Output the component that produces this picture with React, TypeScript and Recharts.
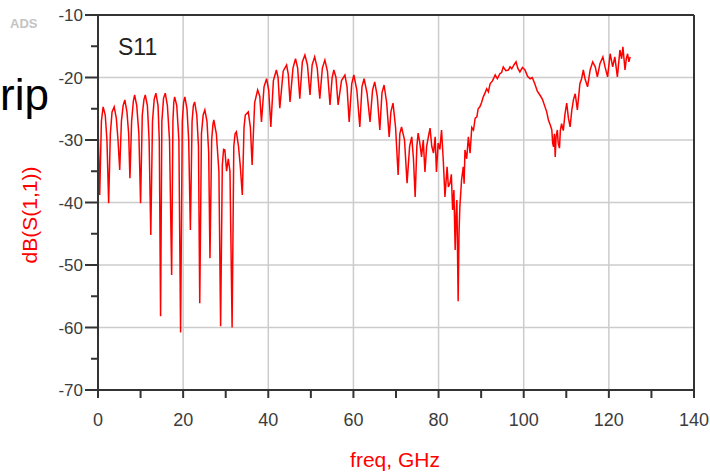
import { LineChart, Line, XAxis, YAxis, CartesianGrid, ReferenceLine } from 'recharts';

// S11 sweep as [freq GHz, dB] pairs, split by band
const lowBand = [
  [0.1, -30], [0.4, -38.8], [0.8, -27], [1.2, -24.7], [1.7, -26], [2.1, -30], [2.5, -40.1], [2.9, -29],
  [3.3, -25.5], [3.8, -24.7], [4.3, -26.5], [4.7, -30], [5.1, -34.8], [5.5, -27], [5.9, -24.5], [6.3, -23.6],
  [6.8, -25.5], [7.2, -29], [7.5, -36.1], [7.9, -27], [8.3, -23.8], [8.6, -22.8], [9.1, -24.5], [9.6, -29],
  [10.0, -40.1], [10.4, -26], [10.8, -23.5], [11.1, -22.8], [11.6, -24.5], [12.0, -30], [12.4, -45.2], [12.8, -27],
  [13.2, -23.5], [13.6, -22.5], [14.1, -24.5], [14.4, -30], [14.7, -58.2], [15.0, -27], [15.4, -23.3], [15.8, -22.5],
  [16.3, -24.5], [16.8, -30], [17.3, -51.6], [17.6, -27], [17.8, -24], [18.0, -23.1], [18.5, -24.5], [19.0, -30],
  [19.4, -60.8], [19.8, -27], [20.1, -24], [20.4, -23.1], [20.9, -25], [21.3, -30], [21.7, -44.4], [22.1, -27],
  [22.4, -24.5], [22.7, -23.9], [23.2, -26], [23.6, -31], [23.9, -56.1], [24.3, -29], [24.7, -26], [25.1, -25.2],
  [25.6, -27], [26.0, -32], [26.3, -48.9], [26.7, -30], [27.0, -27.5], [27.2, -26.8], [27.8, -29], [28.4, -35],
  [28.8, -59.8], [29.2, -34], [29.5, -31.5], [29.8, -31.6], [30.2, -35], [30.6, -33], [31.0, -35], [31.5, -60.0],
  [31.9, -31], [32.2, -29], [32.5, -28.7], [33.0, -31], [33.4, -34], [33.9, -38.8], [34.3, -28], [34.6, -26],
];

const midBand = [
  [35.3, -25.5], [35.8, -28], [36.2, -34.0], [36.8, -24], [37.5, -22.0], [38.0, -23], [38.4, -27.1], [39.0, -21.5],
  [39.6, -20.2], [40.1, -22], [40.6, -27.9], [41.2, -20.5], [41.9, -18.8], [42.3, -20], [42.7, -24.9], [43.5, -19],
  [44.3, -18.0], [44.7, -19.5], [45.1, -23.9], [45.8, -18.5], [46.4, -17.0], [46.9, -18.5], [47.4, -23.4], [48.0, -17.5],
  [48.6, -16.4], [49.2, -18], [49.8, -22.8], [50.3, -18], [50.9, -16.7], [51.5, -18.5], [52.1, -23.4], [52.7, -18.5],
  [53.3, -17.2], [53.9, -19], [54.5, -24.4], [55.0, -20], [55.4, -18.8], [55.9, -20], [56.4, -24.4], [57.2, -20.5],
  [58.0, -19.6], [58.5, -21.5], [59.0, -27.1], [59.6, -21], [60.1, -19.6], [60.8, -22], [61.5, -27.9], [62.0, -21.5],
  [62.5, -20.2], [63.2, -22.5], [63.9, -27.1], [64.5, -22], [65.0, -20.7], [65.6, -23], [66.2, -28.4], [66.7, -22.5],
  [67.2, -21.2], [67.8, -24], [68.4, -29.5], [68.8, -25.5], [69.3, -24.1], [69.9, -28],
];

const notchBand = [
  [70.5, -35.6], [70.9, -29], [71.3, -27.9], [72.0, -30], [72.6, -36.9], [73.2, -31], [73.7, -29.5], [74.1, -33],
  [74.5, -39.1], [74.9, -31], [75.2, -28.9], [75.6, -30.5], [76.0, -32.7], [76.4, -30], [76.8, -35.1], [77.2, -31],
  [77.6, -29.5], [78.0, -28.1], [78.4, -31], [78.8, -32.1], [79.2, -29.5], [79.5, -35.1], [79.9, -30.5], [80.3, -31.5],
  [80.7, -28.4], [81.1, -33.2], [81.5, -39.1], [82.0, -34.3], [82.3, -37.5], [82.7, -36.9], [83.0, -35.5], [83.3, -41.2],
  [83.6, -38], [83.9, -47.6], [84.1, -42], [84.3, -39.6], [84.6, -55.8], [84.8, -45], [85.0, -40.7], [85.4, -36.4],
  [85.8, -34.3], [86.0, -37], [86.2, -31.6], [86.6, -33], [87.0, -29.5], [87.4, -32.1], [87.8, -28], [88.2, -28.4],
  [88.6, -26.5], [89.0, -26.3], [89.3, -25], [89.7, -24.7],
];

const highBand = [
  [90.1, -24], [90.5, -23.1], [90.9, -22.5], [91.3, -21.8], [91.7, -22.3], [92.1, -21.0], [92.7, -20.5], [93.3, -19.6],
  [93.8, -20.2], [94.4, -19.4], [94.8, -19.2], [95.2, -18.3], [95.8, -18.9], [96.4, -18.8], [96.8, -18.3], [97.2, -18.6],
  [97.7, -18.0], [98.2, -17.5], [98.6, -18.5], [99.1, -19.1], [99.7, -18.4], [100.3, -18.8], [100.9, -19.8], [101.5, -20.2],
  [102.0, -20.0], [102.6, -21.0], [103.2, -22.2], [103.8, -22.8], [104.4, -23.5], [105.0, -24.7], [105.4, -25.5], [105.8, -26.8],
  [106.2, -27.5], [106.6, -28.4], [106.8, -30.5], [107.0, -31.1], [107.2, -29], [107.4, -32.7], [107.6, -29.5], [107.9, -28.4],
  [108.1, -30.5], [108.4, -31.3], [108.6, -28.5], [108.9, -27.4], [109.3, -28.5], [109.7, -25.8], [110.1, -24.1], [110.5, -26.5],
  [110.9, -27.9], [111.3, -25.2], [111.7, -23.5], [112.1, -22.6], [112.6, -25.2], [113.2, -21.0], [113.6, -20.2], [114.0, -18.8],
  [114.4, -20.2], [115.0, -21.5], [115.6, -18.8], [116.2, -17.5], [116.8, -18.3], [117.3, -19.9], [117.9, -17.8], [118.6, -16.7],
  [119.1, -18.3], [119.7, -19.9], [120.3, -16.2], [120.9, -18.3], [121.4, -16.7], [122.0, -19.9], [122.6, -15.6], [123.0, -17],
  [123.3, -15.1], [123.8, -18.8], [124.1, -17], [124.4, -16.2], [124.7, -17.5], [125.0, -16.7],
];

const xTicks = [0, 10, 20, 30, 40, 50, 60, 70, 80, 90, 100, 110, 120, 130, 140];
const yTicks = [-70, -65, -60, -55, -50, -45, -40, -35, -30, -25, -20, -15, -10];
const xGrid = [20, 40, 60, 80, 100, 120];
const yGrid = [-60, -50, -40, -30, -20];

const data = [...lowBand, ...midBand, ...notchBand, ...highBand].map(([f, db]) => ({ f, db }));

const AXIS = '#333';
const LABEL = '#3c3c3c';
const RED = '#ff0000';
const FONT = 'Arial, "Liberation Sans", sans-serif';

const YTick = ({ x, y, payload }: any) => {
  const major = payload.value % 10 === 0;
  return (
    <g>
      <line x1={x - (major ? 13 : 7)} y1={y} x2={x} y2={y} stroke={AXIS} strokeWidth={2} />
      {major && (
        <text x={x - 15} y={y + 6} textAnchor="end" fontSize={17} fill={LABEL} fontFamily={FONT}>
          {payload.value}
        </text>
      )}
    </g>
  );
};

const XTick = ({ x, y, payload }: any) => {
  const major = payload.value % 20 === 0;
  return (
    <g>
      <line x1={x} y1={y} x2={x} y2={y + 8} stroke={AXIS} strokeWidth={2} />
      {major && (
        <text x={x} y={y + 36} textAnchor="middle" fontSize={18} fill={LABEL} fontFamily={FONT}>
          {payload.value}
        </text>
      )}
    </g>
  );
};

export default function App() {
  return (
    <div style={{ position: 'absolute', left: 0, top: 0, width: 710, height: 474, background: '#fff' }}>
      <LineChart width={710} height={474} data={data} margin={{ top: 15, right: 16, bottom: 24, left: 0 }}>
        <CartesianGrid
          stroke="#cccccc"
          strokeWidth={1.5}
          horizontalValues={yGrid}
          verticalValues={xGrid}
        />
        <XAxis
          dataKey="f"
          type="number"
          domain={[0, 140]}
          ticks={xTicks}
          interval={0}
          height={60}
          tickSize={0}
          tickMargin={0}
          tick={<XTick />}
          axisLine={{ stroke: AXIS, strokeWidth: 2 }}
          tickLine={false}
        />
        <YAxis
          type="number"
          domain={[-70, -10]}
          ticks={yTicks}
          interval={0}
          width={98}
          tickSize={0}
          tickMargin={0}
          tick={<YTick />}
          axisLine={{ stroke: AXIS, strokeWidth: 2 }}
          tickLine={false}
        />
        <ReferenceLine x={140} stroke={AXIS} strokeWidth={2} />
        <ReferenceLine y={-10} stroke={AXIS} strokeWidth={2} />
        <Line
          dataKey="db"
          type="linear"
          stroke={RED}
          strokeWidth={1.5}
          dot={false}
          isAnimationActive={false}
        />
      </LineChart>
      <svg width={710} height={474} style={{ position: 'absolute', left: 0, top: 0, pointerEvents: 'none' }}>
        <text x={10} y={28} fontSize={13} fontWeight="bold" fill="#c4c4c4" fontFamily={FONT}>ADS</text>
        <text x={49} y={110} textAnchor="end" fontSize={44} fill="#000" fontFamily={FONT}>rip</text>
        <text x={118} y={55} fontSize={23} fill="#222" fontFamily={FONT}>S11</text>
        <text
          x={0}
          y={0}
          transform="translate(37 215) rotate(-90)"
          textAnchor="middle"
          fontSize={21}
          fill={RED}
          fontFamily={FONT}
        >
          dB(S(1,1))
        </text>
        <text x={395} y={467} textAnchor="middle" fontSize={21} fill={RED} fontFamily={FONT}>freq, GHz</text>
      </svg>
    </div>
  );
}
